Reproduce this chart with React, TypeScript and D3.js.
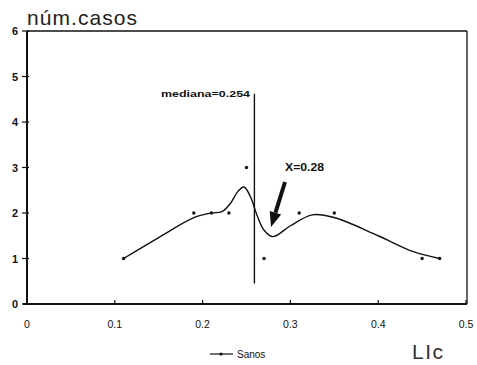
import React from "react";
import * as d3 from "d3";

const pointX = [0.11, 0.19, 0.21, 0.23, 0.25, 0.27, 0.31, 0.35, 0.45, 0.47];
const pointY = [1, 2, 2, 2, 3, 1, 2, 2, 1, 1];

const curveX = [0.11, 0.15, 0.19, 0.21, 0.222, 0.232, 0.24, 0.247, 0.254, 0.262, 0.27, 0.28, 0.3, 0.325, 0.35, 0.4, 0.44, 0.47];
const curveY = [1.0, 1.46, 1.9, 2.0, 2.03, 2.22, 2.47, 2.57, 2.38, 1.95, 1.62, 1.48, 1.72, 1.96, 1.9, 1.5, 1.15, 1.0];

const xTicks = [0, 0.1, 0.2, 0.3, 0.4, 0.5];
const xTickLabels = ["0", "0.1", "0.2", "0.3", "0.4", "0.5"];
const yTicks = [0, 1, 2, 3, 4, 5, 6];

const medianPos = 0.259;
const medianLabel = "mediana=0.254";
const medianRange = [0.45, 4.62];
const arrowLabel = "X=0.28";
const seriesName = "Sanos";
const yTitle = "núm.casos";
const xTitle = "LIc";

const FONT = "'Liberation Sans', Arial, Helvetica, sans-serif";

export default function App() {
  const W = 477, H = 365;
  const L = 27, R = 467, T = 31, B = 304;
  const x = d3.scaleLinear().domain([0, 0.5]).range([L, 466]);
  const y = d3.scaleLinear().domain([0, 6]).range([B, T]);
  const line = d3
    .line<number>()
    .x((_, i) => x(curveX[i]))
    .y((d) => y(d))
    .curve(d3.curveCatmullRom.alpha(0.5));
  const col = "#111";

  // arrow
  const ax0 = 285, ay0 = 182, ax1 = 271, ay1 = 227;
  const ang = Math.atan2(ay1 - ay0, ax1 - ax0);
  const headLen = 15, headW = 6;
  const bx = ax1 - headLen * Math.cos(ang), by = ay1 - headLen * Math.sin(ang);
  const px = -Math.sin(ang), py = Math.cos(ang);

  return (
    <svg width={W} height={H} style={{ position: "absolute", left: 0, top: 0, background: "#fff" }} fontFamily={FONT}>
      <rect x={0} y={0} width={W} height={H} fill="#fff" />
      <text x={27} y={25} fontSize={21} fill="#222" textLength={110} lengthAdjust="spacing">{yTitle}</text>
      {/* frame */}
      <line x1={L} y1={T} x2={R} y2={T} stroke={col} strokeWidth={1.3} />
      <line x1={R} y1={T} x2={R} y2={B} stroke={col} strokeWidth={1.3} />
      <line x1={L} y1={T} x2={L} y2={B} stroke={col} strokeWidth={2} />
      <line x1={L - 4} y1={B} x2={R} y2={B} stroke={col} strokeWidth={2} />
      {yTicks.map((t) => (
        <g key={"y" + t}>
          <line x1={L - 5} x2={L + 2} y1={y(t)} y2={y(t)} stroke={col} strokeWidth={1.2} />
          <text x={18} y={y(t) + 4} fontSize={11} fontWeight="bold" textAnchor="end" fill={col}>{t}</text>
        </g>
      ))}
      {xTicks.map((t, i) => (
        <g key={"x" + t}>
          <line x1={x(t)} x2={x(t)} y1={B} y2={B - 4} stroke={col} strokeWidth={1.2} />
          <text x={x(t)} y={328} fontSize={10.5} textAnchor="middle" fill={col}>{xTickLabels[i]}</text>
        </g>
      ))}
      {/* median */}
      <line x1={x(medianPos)} x2={x(medianPos)} y1={y(medianRange[1])} y2={y(medianRange[0])} stroke={col} strokeWidth={1.4} />
      <text x={161} y={97} fontSize={9.5} fontWeight="bold" fill={col} textLength={89} lengthAdjust="spacingAndGlyphs">{medianLabel}</text>
      {/* curve */}
      <path d={line(curveY) || ""} fill="none" stroke={col} strokeWidth={1.4} />
      {pointX.map((px0, i) => (
        <circle key={"p" + i} cx={x(px0)} cy={y(pointY[i])} r={1.7} fill={col} />
      ))}
      {/* arrow */}
      <line x1={ax0} y1={ay0} x2={bx} y2={by} stroke={col} strokeWidth={4} />
      <polygon
        points={`${ax1},${ay1} ${bx + px * headW},${by + py * headW} ${bx - px * headW},${by - py * headW}`}
        fill={col}
      />
      <text x={285} y={171} fontSize={10} fontWeight="bold" fill={col} textLength={39} lengthAdjust="spacingAndGlyphs">{arrowLabel}</text>
      {/* legend */}
      <line x1={210} x2={233} y1={354} y2={354} stroke={col} strokeWidth={1.2} />
      <circle cx={221} cy={354} r={1.6} fill={col} />
      <text x={237} y={358} fontSize={10} fill={col}>{seriesName}</text>
      <text x={412} y={359} fontSize={21} fill="#333" textLength={31} lengthAdjust="spacing">{xTitle}</text>
    </svg>
  );
}
